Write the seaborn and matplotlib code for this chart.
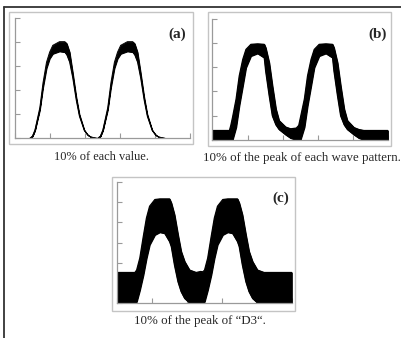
import matplotlib
matplotlib.use("Agg")
import matplotlib.pyplot as plt
import seaborn as sns
import pandas as pd
from matplotlib.patches import Rectangle
from matplotlib.lines import Line2D

# envelope (upper / lower edge) of each noisy wave band
a_x = [0.00, 0.42, 0.50, 0.57, 0.71, 0.80, 0.90, 0.99, 1.08, 1.27, 1.42, 1.48, 1.56, 1.65, 1.75, 1.84, 1.98, 2.08, 2.17, 2.36,
       2.44, 2.51, 2.65, 2.74, 2.84, 2.93, 3.02, 3.21, 3.36, 3.42, 3.50, 3.59, 3.69, 3.78, 3.92, 4.02, 4.11, 4.30, 5.00]
a_hi = [0, 0, 0.10, 0.35, 1.28, 2.30, 3.15, 3.57, 3.85, 4.00, 4.00, 3.92, 3.57, 2.72, 1.72, 1.00, 0.35, 0.15, 0.06, 0,
        0.10, 0.35, 1.28, 2.30, 3.15, 3.57, 3.85, 4.00, 4.00, 3.92, 3.57, 2.72, 1.72, 1.00, 0.35, 0.15, 0.06, 0, 0]
a_lo = [0, 0, 0.09, 0.33, 1.18, 2.10, 2.90, 3.30, 3.50, 3.60, 3.57, 3.46, 3.16, 2.50, 1.58, 0.92, 0.33, 0.14, 0.06, 0,
        0.09, 0.33, 1.18, 2.10, 2.90, 3.30, 3.50, 3.60, 3.57, 3.46, 3.16, 2.50, 1.58, 0.92, 0.33, 0.14, 0.06, 0, 0]

b_x = [0.00, 0.48, 0.52, 0.57, 0.67, 0.76, 0.86, 0.95, 1.09, 1.28, 1.47, 1.51, 1.61, 1.70, 1.80, 1.89, 2.08, 2.22, 2.38,
       2.45, 2.50, 2.61, 2.70, 2.80, 2.89, 3.03, 3.22, 3.41, 3.45, 3.55, 3.64, 3.74, 3.83, 4.02, 4.16, 4.30, 4.98]
b_hi = [0.38, 0.38, 0.59, 0.93, 1.68, 2.64, 3.32, 3.73, 3.94, 3.96, 3.94, 3.80, 3.18, 2.23, 1.27, 0.79, 0.52, 0.45, 0.48,
        0.59, 0.93, 1.68, 2.64, 3.32, 3.73, 3.94, 3.96, 3.94, 3.80, 3.18, 2.23, 1.27, 0.79, 0.50, 0.42, 0.38, 0.38]
b_lo = [0, 0, 0, 0, 0.52, 1.41, 2.23, 2.98, 3.46, 3.57, 3.39, 2.84, 1.82, 0.99, 0.62, 0.43, 0.21, 0.07, 0,
        0, 0, 0.52, 1.41, 2.23, 2.98, 3.46, 3.57, 3.39, 2.84, 1.82, 0.99, 0.62, 0.43, 0.21, 0.07, 0, 0]

c_x = [0.00, 0.52, 0.57, 0.66, 0.76, 0.85, 0.94, 1.09, 1.23, 1.37, 1.51, 1.56, 1.65, 1.75, 1.84, 1.94, 2.08, 2.27, 2.40,
       2.46, 2.51, 2.60, 2.70, 2.79, 2.88, 3.03, 3.17, 3.31, 3.45, 3.50, 3.59, 3.69, 3.78, 3.88, 4.02, 4.21, 5.00]
c_hi = [1.52, 1.52, 1.64, 2.23, 3.30, 4.21, 4.79, 5.12, 5.15, 5.15, 5.15, 4.95, 4.37, 3.38, 2.56, 2.06, 1.64, 1.52, 1.57,
        1.55, 1.64, 2.23, 3.30, 4.21, 4.79, 5.12, 5.15, 5.15, 5.15, 4.95, 4.37, 3.38, 2.56, 2.06, 1.64, 1.52, 1.52]
c_lo = [0, 0, 0.08, 0.65, 1.40, 2.22, 2.89, 3.38, 3.51, 3.46, 3.05, 2.80, 1.89, 1.07, 0.58, 0.25, 0.03, 0, 0,
        0, 0.08, 0.65, 1.40, 2.22, 2.89, 3.38, 3.51, 3.46, 3.05, 2.80, 1.89, 1.07, 0.58, 0.25, 0.03, 0, 0]

panel_labels = ["(a)", "(b)", "(c)"]
captions = ["10% of each value.",
            "10% of the peak of each wave pattern.",
            "10% of the peak of \u201cD3\u201c."]

sns.set_style("white")
plt.rcParams['font.family'] = ['Liberation Serif', 'DejaVu Serif']

W, H = 402, 338
fig = plt.figure(figsize=(W / 100, H / 100), dpi=100)


def fx(px):
    return px / W


def fy(py):
    return 1 - py / H


def add_box(l, t, r, b):
    fig.patches.append(Rectangle((fx(l), fy(b)), fx(r - l), (b - t) / H, transform=fig.transFigure,
                                 fill=False, ec='#c4c4c4', lw=1.0))


def add_panel(rect, xs, hi, lo, ymax, label, lx, ly, lw):
    l, t, r, b = rect
    ax = fig.add_axes([fx(l), fy(b), fx(r - l), (b - t) / H])
    df = pd.DataFrame({'x': xs, 'hi': hi, 'lo': lo})
    ax.fill_between(df['x'], df['lo'], df['hi'], color='black', lw=lw)
    sns.lineplot(data=df, x='x', y='hi', ax=ax, color='black', lw=lw)
    sns.lineplot(data=df, x='x', y='lo', ax=ax, color='black', lw=lw)
    ax.set_xlim(0, 5)
    ax.set_ylim(0, ymax)
    ax.set_xticks(range(0, 6))
    ax.set_yticks(range(0, ymax + 1))
    ax.set_xticklabels([])
    ax.set_yticklabels([])
    ax.set_xlabel('')
    ax.set_ylabel('')
    ax.tick_params(direction='in', length=3.5, width=0.8, color='#9a9a9a',
                   bottom=True, left=True)
    for s in ['top', 'right']:
        ax.spines[s].set_visible(False)
    for s in ['left', 'bottom']:
        ax.spines[s].set_color('#9a9a9a')
        ax.spines[s].set_linewidth(0.9)
    ax.patch.set_alpha(0)
    ax.text(lx, ly, label, transform=ax.transAxes, ha='right', va='center',
            fontsize=11, fontweight='bold')
    return ax


# grey frames around each panel
add_box(9, 12, 193, 144)
add_box(208, 12, 391, 146)
add_box(112, 177, 295, 311)

add_panel((15, 17.5, 190, 138.5), a_x, a_hi, a_lo, 5, panel_labels[0], 0.975, 0.86, 0.7)
add_panel((212.5, 18.7, 388.5, 139.7), b_x, b_hi, b_lo, 5, panel_labels[1], 0.99, 0.87, 0.9)
add_panel((116.7, 181.7, 291.7, 303.3), c_x, c_hi, c_lo, 6, panel_labels[2], 0.985, 0.866, 0.9)

fig.text(fx(101), fy(157.5), captions[0], ha='center', va='center', fontsize=8.9)
fig.text(fx(301.5), fy(157.5), captions[1], ha='center', va='center', fontsize=9.3)
fig.text(fx(200), fy(321), captions[2], ha='center', va='center', fontsize=9.3)

# outer frame (top and left edges)
fig.add_artist(Line2D([fx(4), 1], [fy(7), fy(7)], color='#333333', lw=1.3))
fig.add_artist(Line2D([fx(4.5), fx(4.5)], [fy(7), 0], color='#333333', lw=1.3))

fig.savefig('out.png', dpi=100)
